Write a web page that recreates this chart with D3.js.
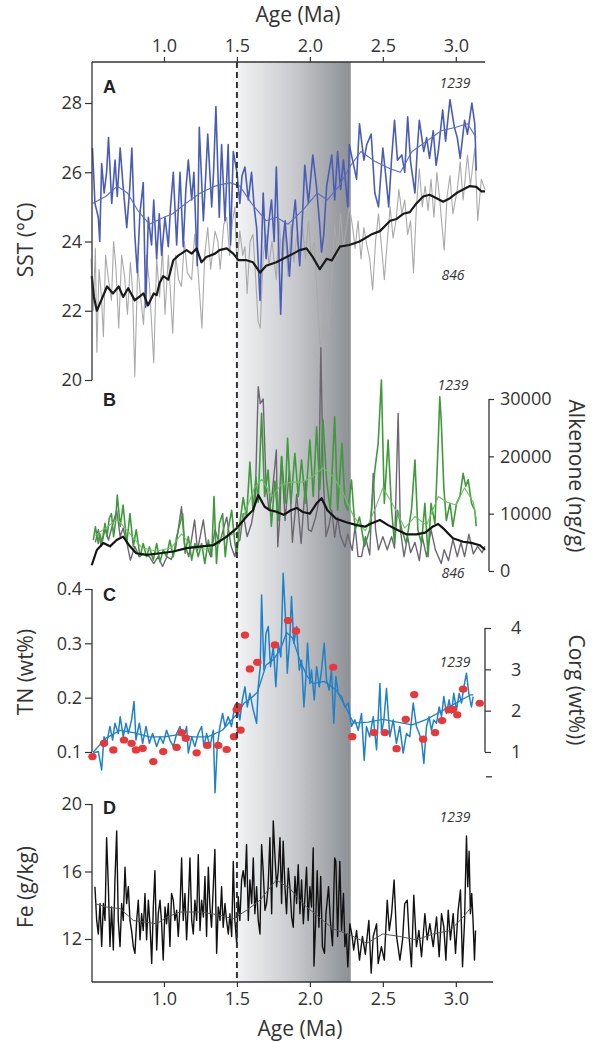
<!DOCTYPE html>
<html><head><meta charset="utf-8">
<script src="https://cdn.jsdelivr.net/npm/d3@7"></script>
<style>
body{margin:0;background:#fff}
svg{display:block}
</style>
</head><body>
<svg id="c" width="592" height="1043"></svg>
<script>
// ---------------- DATA ----------------
const ageTicks = [1.0, 1.5, 2.0, 2.5, 3.0];
const sstTicks = [20, 22, 24, 26, 28];
const alkTicks = [0, 10000, 20000, 30000];
const tnTicks = [0.1, 0.2, 0.3, 0.4];
const corgTicks = [1, 2, 3, 4];
const corgExtraTick = [0.4];
const feTicks = [12, 16, 20];
const bandAges = [1.5, 2.28];
const dashAge = 1.5;

// Panel A: SST (°C)
const sst1239 = [[0.51,26.7],[0.527,25.1],[0.55,24.7],[0.56,24.0],[0.573,26.25],[0.59,25.4],[0.607,26.0],[0.62,27.0],[0.642,25.1],[0.665,26.35],[0.68,25.3],[0.70,26.7],[0.72,25.6],[0.745,24.4],[0.765,25.5],[0.78,26.7],[0.80,24.2],[0.817,23.1],[0.835,24.8],[0.858,25.7],[0.875,22.1],[0.893,24.7],[0.915,23.9],[0.93,25.2],[0.95,23.5],[0.968,24.8],[0.984,23.6],[1.007,24.7],[1.03,23.85],[1.045,25.0],[1.064,26.0],[1.087,23.9],[1.11,26.0],[1.132,23.85],[1.15,25.5],[1.167,26.35],[1.19,25.2],[1.205,26.0],[1.228,23.3],[1.242,27.3],[1.27,24.6],[1.285,25.8],[1.30,27.1],[1.327,25.0],[1.34,26.0],[1.356,27.9],[1.379,24.7],[1.395,26.8],[1.418,24.6],[1.44,26.8],[1.456,23.9],[1.475,26.6],[1.50,26.0],[1.52,25.1],[1.535,25.9],[1.555,26.15],[1.578,25.2],[1.60,26.0],[1.618,25.0],[1.635,24.4],[1.658,22.3],[1.68,25.4],[1.70,23.5],[1.72,24.6],[1.737,25.2],[1.755,24.0],[1.77,26.15],[1.80,21.9],[1.815,24.0],[1.83,24.6],[1.86,23.0],[1.88,24.4],[1.90,25.2],[1.93,23.3],[1.95,24.8],[1.965,26.2],[1.99,25.1],[2.02,26.5],[2.045,25.6],[2.065,24.6],[2.08,23.7],[2.095,24.2],[2.115,25.6],[2.15,26.5],[2.17,25.2],[2.19,26.6],[2.21,25.5],[2.23,26.35],[2.26,25.0],[2.27,26.8],[2.30,26.2],[2.32,25.8],[2.34,27.4],[2.37,26.35],[2.39,26.8],[2.42,27.1],[2.445,25.4],[2.47,25.0],[2.50,26.7],[2.52,25.9],[2.54,25.0],[2.56,26.4],[2.58,27.5],[2.60,26.35],[2.63,26.5],[2.65,26.0],[2.67,27.6],[2.69,26.3],[2.72,25.4],[2.735,26.6],[2.75,27.5],[2.78,26.6],[2.8,27.0],[2.82,26.4],[2.845,27.2],[2.865,26.2],[2.88,26.6],[2.91,27.8],[2.93,26.9],[2.96,28.1],[2.99,27.3],[3.01,27.0],[3.03,26.4],[3.06,27.5],[3.08,27.1],[3.11,28.0],[3.13,27.4],[3.14,26.05]];
const sst1239Smooth = [[0.51,25.1],[0.6,25.3],[0.68,25.6],[0.75,25.4],[0.82,24.9],[0.9,24.5],[1.0,24.7],[1.06,24.8],[1.15,25.1],[1.25,25.4],[1.35,25.6],[1.45,25.7],[1.52,25.6],[1.6,25.1],[1.7,24.6],[1.77,24.7],[1.85,24.5],[1.95,24.9],[2.05,25.4],[2.12,25.2],[2.2,25.6],[2.28,26.2],[2.35,26.6],[2.45,26.3],[2.55,26.1],[2.62,26.0],[2.7,26.6],[2.8,26.9],[2.9,27.2],[3.0,27.3],[3.08,27.4],[3.14,27.0]];
const sst846 = [[0.5,23.5],[0.515,22.0],[0.53,23.8],[0.54,20.8],[0.555,23.2],[0.57,22.5],[0.585,21.25],[0.60,23.6],[0.62,22.9],[0.64,22.3],[0.655,24.0],[0.67,23.3],[0.69,21.5],[0.71,23.6],[0.73,23.0],[0.75,21.9],[0.77,23.4],[0.785,22.6],[0.80,20.1],[0.82,23.3],[0.84,22.4],[0.86,21.6],[0.88,23.6],[0.90,22.8],[0.93,20.5],[0.95,23.5],[0.97,22.4],[0.99,23.8],[1.007,21.9],[1.03,23.6],[1.06,21.35],[1.08,23.6],[1.10,22.9],[1.12,22.7],[1.14,24.0],[1.16,23.1],[1.19,22.9],[1.21,24.2],[1.23,23.4],[1.26,21.5],[1.28,23.65],[1.30,24.4],[1.32,23.2],[1.35,24.3],[1.37,24.0],[1.385,23.2],[1.41,24.5],[1.43,24.7],[1.45,23.6],[1.47,24.6],[1.486,25.0],[1.50,23.3],[1.52,24.3],[1.54,23.6],[1.555,23.85],[1.57,22.5],[1.59,24.0],[1.61,24.2],[1.625,23.2],[1.645,21.7],[1.66,21.5],[1.68,23.6],[1.70,24.2],[1.72,23.3],[1.74,24.0],[1.77,22.9],[1.79,24.6],[1.81,23.2],[1.83,24.3],[1.85,23.0],[1.87,24.5],[1.89,23.4],[1.91,24.2],[1.93,23.3],[1.95,24.4],[1.97,23.5],[1.99,24.6],[2.01,23.6],[2.03,24.0],[2.05,22.4],[2.07,21.0],[2.09,21.3],[2.11,22.6],[2.13,21.4],[2.15,23.0],[2.17,24.5],[2.19,23.6],[2.21,24.8],[2.23,23.8],[2.25,24.4],[2.27,25.0],[2.29,24.5],[2.31,23.8],[2.33,24.6],[2.35,23.5],[2.37,24.4],[2.39,23.9],[2.41,23.5],[2.43,22.6],[2.45,24.0],[2.47,24.8],[2.49,23.9],[2.51,22.9],[2.53,24.0],[2.55,25.0],[2.57,24.1],[2.59,24.6],[2.61,25.5],[2.63,24.8],[2.65,25.2],[2.67,24.2],[2.69,24.6],[2.71,23.1],[2.73,25.0],[2.75,26.1],[2.77,25.0],[2.79,25.6],[2.81,24.9],[2.83,25.8],[2.85,24.7],[2.87,26.0],[2.89,25.2],[2.92,23.75],[2.94,25.3],[2.96,25.9],[2.98,24.8],[3.01,25.5],[3.03,26.3],[3.05,25.2],[3.08,26.5],[3.10,25.6],[3.13,26.7],[3.15,24.6],[3.175,25.8],[3.20,25.5]];
const sst846Smooth = [[0.505,23.0],[0.52,22.4],[0.54,22.0],[0.57,22.3],[0.61,22.7],[0.65,22.5],[0.69,22.7],[0.72,22.4],[0.755,22.65],[0.80,22.3],[0.83,22.4],[0.86,22.5],[0.89,22.15],[0.93,22.5],[0.95,22.45],[0.97,22.8],[0.995,23.0],[1.03,22.9],[1.064,23.46],[1.10,23.6],[1.155,23.75],[1.19,23.65],[1.224,23.8],[1.257,23.4],[1.29,23.55],[1.35,23.65],[1.38,23.75],[1.43,23.8],[1.475,23.65],[1.51,23.46],[1.566,23.46],[1.61,23.4],[1.658,23.1],[1.70,23.3],[1.77,23.4],[1.84,23.55],[1.886,23.65],[1.93,23.75],[1.977,23.8],[2.02,23.55],[2.068,23.2],[2.115,23.5],[2.15,23.45],[2.205,23.85],[2.27,23.9],[2.34,24.0],[2.42,24.2],[2.48,24.3],[2.55,24.6],[2.594,24.65],[2.64,24.8],[2.685,24.85],[2.73,25.1],[2.776,25.3],[2.82,25.35],[2.868,25.25],[2.913,25.15],[2.96,25.25],[3.005,25.4],[3.05,25.5],[3.096,25.6],[3.14,25.58],[3.176,25.45],[3.2,25.45]];

// Panel B: Alkenone (ng/g)
const alk1239 = [[0.516,5400],[0.53,7700],[0.55,4800],[0.56,6500],[0.575,5000],[0.596,8300],[0.61,6000],[0.625,9200],[0.64,10000],[0.655,6000],[0.668,8500],[0.68,13250],[0.70,7800],[0.72,11500],[0.745,4800],[0.767,10000],[0.79,4300],[0.81,7200],[0.836,2500],[0.858,4800],[0.88,2500],[0.90,4200],[0.927,1900],[0.95,4800],[0.973,1600],[0.995,3700],[1.018,2500],[1.04,5400],[1.064,2500],[1.087,6000],[1.11,8300],[1.128,10000],[1.145,3100],[1.167,6000],[1.19,1900],[1.212,4800],[1.235,2500],[1.258,4800],[1.28,1300],[1.304,5400],[1.327,2500],[1.343,13000],[1.36,1300],[1.38,8300],[1.402,10000],[1.42,2500],[1.44,7200],[1.464,10600],[1.486,4800],[1.50,3100],[1.52,8300],[1.543,12800],[1.566,9400],[1.589,19000],[1.61,10600],[1.63,16400],[1.646,12000],[1.669,27500],[1.69,13000],[1.714,17600],[1.736,7800],[1.76,15700],[1.783,8800],[1.806,19940],[1.83,11800],[1.847,23140],[1.87,11800],[1.897,20500],[1.92,13000],[1.943,19360],[1.97,11800],[2.0,22850],[2.023,13000],[2.046,25170],[2.068,14200],[2.09,26340],[2.114,15900],[2.14,10600],[2.17,26900],[2.19,10600],[2.22,22270],[2.24,11800],[2.26,10600],[2.285,15870],[2.31,7200],[2.34,9400],[2.375,4300],[2.41,7200],[2.445,17600],[2.468,22270],[2.49,33300],[2.51,11800],[2.536,22850],[2.56,10600],[2.58,4800],[2.60,10600],[2.63,7200],[2.66,4800],[2.696,10600],[2.72,19360],[2.74,7200],[2.765,4800],[2.788,11800],[2.81,2500],[2.83,11800],[2.857,8300],[2.88,22850],[2.89,30400],[2.90,26300],[2.918,14500],[2.935,8800],[2.96,11800],[2.98,7800],[3.005,11800],[3.028,13000],[3.05,17030],[3.068,14800],[3.085,15900],[3.108,11800],[3.13,10600],[3.14,7800]];
const alk1239Smooth = [[0.516,6000],[0.6,7500],[0.68,9000],[0.75,7000],[0.85,4000],[0.95,3500],[1.05,4000],[1.12,6500],[1.2,4000],[1.3,3800],[1.4,6000],[1.5,6500],[1.56,10500],[1.62,14500],[1.67,16000],[1.74,13000],[1.8,15000],[1.87,15500],[1.95,15500],[2.02,16500],[2.09,18000],[2.16,16500],[2.22,14000],[2.3,9500],[2.38,7000],[2.45,11000],[2.5,14500],[2.56,12000],[2.65,7500],[2.72,9500],[2.8,8000],[2.88,13000],[2.94,12000],[3.0,11500],[3.06,14500],[3.12,12000],[3.14,9000]];
const alk846 = [[0.53,5000],[0.55,7200],[0.57,4300],[0.596,7300],[0.62,5400],[0.645,7800],[0.676,10600],[0.70,6000],[0.72,7500],[0.745,5000],[0.77,1900],[0.80,4300],[0.83,2500],[0.86,3000],[0.90,2500],[0.93,1300],[0.96,2500],[0.99,800],[1.02,2500],[1.05,2000],[1.08,4000],[1.12,11200],[1.14,4800],[1.17,2500],[1.21,8900],[1.23,3600],[1.27,8900],[1.29,4800],[1.32,2500],[1.35,7200],[1.38,4800],[1.43,9400],[1.46,4300],[1.486,2500],[1.50,4800],[1.52,5400],[1.543,10000],[1.57,6000],[1.60,8300],[1.625,12000],[1.646,32150],[1.66,29200],[1.68,30000],[1.70,14900],[1.72,10600],[1.74,13000],[1.77,21100],[1.78,4240],[1.795,10000],[1.806,20000],[1.83,8800],[1.86,17600],[1.88,5000],[1.91,13400],[1.94,4800],[1.97,15700],[1.99,7200],[2.01,6900],[2.04,9400],[2.06,12000],[2.075,39000],[2.09,17600],[2.11,6000],[2.13,7800],[2.15,10600],[2.17,5900],[2.19,9400],[2.21,6100],[2.24,4200],[2.26,6400],[2.29,3600],[2.31,7800],[2.33,2500],[2.354,2500],[2.38,6000],[2.41,2800],[2.434,17030],[2.45,7200],[2.47,3700],[2.50,6000],[2.53,3700],[2.56,6000],[2.58,4000],[2.605,27500],[2.62,7200],[2.645,2500],[2.67,6000],[2.69,3200],[2.72,5000],[2.75,1800],[2.77,6000],[2.80,2500],[2.83,7200],[2.86,3700],[2.90,1300],[2.92,3700],[2.95,1800],[2.98,5500],[3.01,2500],[3.035,5000],[3.06,2500],[3.09,6400],[3.12,3000],[3.15,4300],[3.18,3200],[3.2,4300]];
const alk846Smooth = [[0.505,1000],[0.54,3660],[0.585,4900],[0.63,4300],[0.676,5400],[0.72,6000],[0.767,4300],[0.81,3100],[0.88,2800],[0.973,3100],[1.064,3400],[1.155,4000],[1.246,4240],[1.338,4500],[1.43,6000],[1.498,7440],[1.566,9500],[1.61,10600],[1.646,13250],[1.69,11200],[1.726,10600],[1.77,10350],[1.82,9800],[1.87,10600],[1.91,11000],[1.95,10300],[2.0,10000],[2.046,11800],[2.08,12700],[2.12,10600],[2.18,9100],[2.25,8500],[2.32,8000],[2.377,7730],[2.42,8300],[2.48,8900],[2.536,8000],[2.59,7300],[2.66,6400],[2.73,6400],[2.79,6700],[2.84,7700],[2.879,8200],[2.92,7300],[2.98,5700],[3.05,5100],[3.107,4900],[3.164,4500],[3.2,3700]];

// Panel C: TN (wt%) and Corg (wt%)
const tn1239 = [[0.516,0.098],[0.55,0.101],[0.573,0.067],[0.589,0.128],[0.607,0.116],[0.63,0.147],[0.648,0.122],[0.664,0.153],[0.687,0.134],[0.70,0.165],[0.721,0.128],[0.74,0.153],[0.756,0.134],[0.778,0.159],[0.795,0.193],[0.808,0.122],[0.831,0.153],[0.854,0.116],[0.877,0.147],[0.90,0.116],[0.922,0.134],[0.95,0.110],[0.973,0.128],[0.995,0.116],[1.018,0.140],[1.041,0.122],[1.064,0.110],[1.087,0.134],[1.11,0.147],[1.132,0.122],[1.155,0.147],[1.167,0.098],[1.19,0.128],[1.212,0.110],[1.235,0.134],[1.258,0.147],[1.274,0.110],[1.292,0.134],[1.315,0.110],[1.338,0.140],[1.35,0.025],[1.365,0.110],[1.384,0.147],[1.402,0.171],[1.418,0.147],[1.44,0.165],[1.463,0.147],[1.48,0.177],[1.498,0.19],[1.52,0.159],[1.537,0.196],[1.555,0.22],[1.571,0.183],[1.589,0.208],[1.612,0.177],[1.635,0.153],[1.646,0.22],[1.66,0.257],[1.669,0.389],[1.685,0.251],[1.699,0.318],[1.715,0.331],[1.73,0.257],[1.749,0.294],[1.767,0.22],[1.783,0.30],[1.801,0.275],[1.817,0.429],[1.836,0.331],[1.845,0.245],[1.863,0.312],[1.874,0.386],[1.89,0.30],[1.909,0.331],[1.927,0.251],[1.943,0.269],[1.959,0.183],[1.973,0.239],[1.984,0.30],[2.0,0.226],[2.011,0.251],[2.03,0.196],[2.046,0.257],[2.064,0.22],[2.08,0.251],[2.098,0.30],[2.114,0.233],[2.132,0.214],[2.148,0.251],[2.164,0.153],[2.178,0.239],[2.194,0.208],[2.217,0.202],[2.24,0.183],[2.263,0.19],[2.285,0.147],[2.308,0.159],[2.331,0.140],[2.354,0.171],[2.372,0.085],[2.388,0.147],[2.41,0.128],[2.434,0.165],[2.457,0.104],[2.48,0.226],[2.491,0.134],[2.507,0.159],[2.525,0.217],[2.548,0.128],[2.571,0.159],[2.593,0.116],[2.616,0.147],[2.639,0.098],[2.662,0.134],[2.685,0.128],[2.708,0.19],[2.73,0.147],[2.749,0.134],[2.765,0.122],[2.781,0.079],[2.799,0.147],[2.817,0.165],[2.833,0.140],[2.849,0.159],[2.868,0.153],[2.886,0.183],[2.902,0.165],[2.918,0.202],[2.936,0.171],[2.954,0.196],[2.97,0.171],[2.986,0.208],[3.005,0.177],[3.023,0.208],[3.039,0.190],[3.055,0.220],[3.073,0.245],[3.089,0.208],[3.107,0.183],[3.119,0.202]];
const tn1239Smooth = [[0.516,0.10],[0.6,0.125],[0.7,0.14],[0.8,0.135],[0.9,0.128],[1.0,0.128],[1.1,0.132],[1.2,0.128],[1.3,0.128],[1.4,0.14],[1.5,0.17],[1.55,0.19],[1.6,0.2],[1.64,0.21],[1.7,0.26],[1.75,0.27],[1.8,0.29],[1.84,0.32],[1.88,0.31],[1.93,0.27],[1.98,0.24],[2.02,0.226],[2.1,0.23],[2.18,0.214],[2.25,0.18],[2.3,0.153],[2.4,0.155],[2.5,0.16],[2.6,0.155],[2.7,0.15],[2.8,0.16],[2.9,0.175],[3.0,0.19],[3.1,0.205],[3.12,0.205]];
const corg1239 = [[0.51,0.89],[0.589,1.21],[0.653,1.05],[0.726,1.29],[0.778,1.21],[0.808,1.05],[0.854,1.09],[0.927,0.77],[0.995,1.01],[1.087,1.11],[1.121,1.47],[1.15,1.33],[1.224,0.98],[1.297,1.16],[1.372,1.16],[1.43,1.06],[1.48,1.37],[1.498,2.02],[1.507,2.10],[1.525,1.53],[1.555,3.83],[1.589,3.01],[1.64,3.17],[1.76,3.59],[1.85,4.18],[1.905,3.93],[2.16,3.05],[2.29,1.37],[2.44,1.47],[2.514,1.47],[2.594,1.08],[2.657,1.79],[2.715,2.39],[2.776,1.31],[2.858,1.47],[2.906,1.76],[2.95,2.02],[2.98,2.03],[3.01,1.90],[3.05,2.52],[3.164,2.18]];

// Panel D: Fe (g/kg)
const fe1239 = [[0.527,15.1],[0.539,13.1],[0.55,12.3],[0.562,14.1],[0.573,11.55],[0.585,14.1],[0.596,13.1],[0.607,18.0],[0.619,15.1],[0.63,11.55],[0.641,13.9],[0.653,11.35],[0.664,15.5],[0.676,18.4],[0.687,13.1],[0.699,11.55],[0.71,14.1],[0.721,13.1],[0.733,16.25],[0.744,14.1],[0.756,15.1],[0.767,13.1],[0.778,12.5],[0.79,11.55],[0.801,11.15],[0.813,13.1],[0.824,14.3],[0.836,11.95],[0.847,13.5],[0.858,12.5],[0.87,14.7],[0.881,11.95],[0.893,14.3],[0.904,12.9],[0.916,10.55],[0.927,13.9],[0.938,16.05],[0.95,11.35],[0.961,13.5],[0.973,14.3],[0.984,12.9],[0.995,10.75],[1.007,13.9],[1.018,12.9],[1.03,14.1],[1.041,11.55],[1.052,14.7],[1.064,14.3],[1.075,13.1],[1.087,13.7],[1.098,12.15],[1.11,13.9],[1.121,16.8],[1.132,13.1],[1.144,14.7],[1.155,11.95],[1.167,14.1],[1.178,16.8],[1.19,13.1],[1.201,12.3],[1.212,14.3],[1.224,13.1],[1.235,17.0],[1.247,12.5],[1.258,14.3],[1.27,13.3],[1.281,15.7],[1.292,12.15],[1.304,16.25],[1.315,13.9],[1.326,12.7],[1.338,15.1],[1.349,17.3],[1.361,11.15],[1.372,13.9],[1.384,13.1],[1.395,15.1],[1.406,12.7],[1.418,14.1],[1.429,13.1],[1.441,12.3],[1.452,13.5],[1.464,12.15],[1.475,16.6],[1.486,13.1],[1.498,11.75],[1.509,14.5],[1.52,13.1],[1.532,15.5],[1.543,16.05],[1.555,15.1],[1.566,17.6],[1.578,13.1],[1.589,15.5],[1.601,14.1],[1.612,16.8],[1.623,13.5],[1.635,15.1],[1.646,13.1],[1.658,12.3],[1.669,17.6],[1.68,16.05],[1.692,13.7],[1.703,14.1],[1.714,15.1],[1.726,18.0],[1.738,13.5],[1.749,19.0],[1.76,17.0],[1.772,15.1],[1.783,16.05],[1.795,18.0],[1.806,14.1],[1.817,17.8],[1.829,15.1],[1.84,13.5],[1.852,16.2],[1.863,15.1],[1.875,13.3],[1.886,12.7],[1.898,15.7],[1.909,14.1],[1.92,16.4],[1.932,13.5],[1.943,15.5],[1.955,12.9],[1.966,14.5],[1.977,16.25],[1.988,13.1],[2.0,15.1],[2.011,13.9],[2.023,17.4],[2.028,10.4],[2.04,13.1],[2.05,16.05],[2.062,12.7],[2.074,15.7],[2.086,11.55],[2.1,11.15],[2.11,13.5],[2.128,15.1],[2.14,13.1],[2.155,11.6],[2.17,16.8],[2.178,16.6],[2.19,12.15],[2.205,16.6],[2.217,12.5],[2.23,14.7],[2.24,11.55],[2.25,12.3],[2.26,10.35],[2.274,12.9],[2.29,12.15],[2.3,11.35],[2.32,12.5],[2.34,10.75],[2.36,12.15],[2.38,11.1],[2.404,13.1],[2.42,9.98],[2.434,12.15],[2.457,12.9],[2.468,10.55],[2.49,11.55],[2.51,10.75],[2.53,14.3],[2.544,12.5],[2.56,13.5],[2.577,15.5],[2.594,12.15],[2.617,10.75],[2.635,11.95],[2.65,14.1],[2.667,14.3],[2.68,12.15],[2.696,10.35],[2.712,14.6],[2.73,11.55],[2.747,12.5],[2.765,10.95],[2.788,13.5],[2.804,11.95],[2.822,12.9],[2.845,11.55],[2.868,13.3],[2.886,10.95],[2.902,13.5],[2.918,12.7],[2.932,10.75],[2.948,13.7],[2.963,11.95],[2.982,13.5],[2.998,11.15],[3.016,13.7],[3.032,14.9],[3.046,10.35],[3.06,13.1],[3.073,18.1],[3.082,15.1],[3.091,17.2],[3.1,13.5],[3.109,14.7],[3.118,13.1],[3.128,10.75],[3.135,12.5]];
const fe1239Smooth = [[0.527,14.1],[0.6,13.9],[0.7,13.8],[0.79,13.1],[0.87,13.0],[0.95,12.9],[1.02,13.3],[1.11,13.6],[1.25,13.6],[1.36,13.45],[1.475,13.2],[1.566,13.7],[1.658,14.3],[1.77,15.5],[1.863,15.0],[1.92,14.4],[1.977,13.9],[2.09,13.1],[2.16,12.6],[2.274,12.25],[2.39,11.75],[2.5,12.3],[2.616,12.15],[2.73,11.95],[2.845,12.3],[2.96,12.5],[3.05,13.3],[3.107,13.9]];

// ---------------- DRAWING ----------------
const FONT = "'Open Sans', 'DejaVu Sans', sans-serif";
const INK = "#333";
const svg = d3.select("#c");

const x = d3.scaleLinear().domain([0.5, 3.2]).range([91, 485]);
const yA = d3.scaleLinear().domain([20, 28]).range([380, 103]);
const yB = d3.scaleLinear().domain([0, 30000]).range([571, 399]);
const yC = d3.scaleLinear().domain([0.1, 0.4]).range([752, 589]);
const yC2 = d3.scaleLinear().domain([1, 4]).range([752, 628]);
const yD = d3.scaleLinear().domain([12, 20]).range([939, 804]);

const TOP = 62, BOTTOM = 982, LEFT = 92;

// gradient band
const defs = svg.append("defs");
const grad = defs.append("linearGradient").attr("id", "band")
  .attr("gradientUnits", "userSpaceOnUse")
  .attr("x1", x(bandAges[0])).attr("x2", x(bandAges[1])).attr("y1", 0).attr("y2", 0);
grad.append("stop").attr("offset", 0).attr("stop-color", "#f2f3f5");
grad.append("stop").attr("offset", 0.5).attr("stop-color", "#c8cacd");
grad.append("stop").attr("offset", 1).attr("stop-color", "#8c8f94");
svg.append("rect")
  .attr("x", x(bandAges[0])).attr("y", TOP)
  .attr("width", x(bandAges[1]) - x(bandAges[0])).attr("height", BOTTOM - TOP)
  .attr("fill", "url(#band)");

function lineGen(ys) {
  return d3.line().x(d => x(d[0])).y(d => ys(d[1]));
}
function drawLine(data, ys, color, w) {
  svg.append("path").datum(data)
    .attr("d", lineGen(ys))
    .attr("fill", "none").attr("stroke", color)
    .attr("stroke-width", w).attr("stroke-linejoin", "round");
}

// Panel A
drawLine(sst846, yA, "#a9a9a9", 1.1);
drawLine(sst1239, yA, "#4a5db6", 1.6);
drawLine(sst1239Smooth, yA, "#5a6cc0", 1.1);
drawLine(sst846Smooth, yA, "#1a1a1a", 2.2);

// Panel B
drawLine(alk846, yB, "#6b6670", 1.4);
drawLine(alk1239, yB, "#3f9a3c", 1.6);
drawLine(alk1239Smooth, yB, "#6fbf66", 1.1);
drawLine(alk846Smooth, yB, "#141414", 2.2);

// Panel C
drawLine(tn1239, yC, "#1f82c9", 1.5);
drawLine(tn1239Smooth, yC, "#1f82c9", 1.3);
svg.append("g").selectAll("ellipse").data(corg1239).join("ellipse")
  .attr("cx", d => x(d[0])).attr("cy", d => yC2(d[1]))
  .attr("rx", 4.2).attr("ry", 3.6).attr("fill", "#e8383a");

// Panel D
drawLine(fe1239, yD, "#111", 1.4);
drawLine(fe1239Smooth, yD, "#555", 1.0);

// dashed line
svg.append("line")
  .attr("x1", x(dashAge)).attr("x2", x(dashAge))
  .attr("y1", TOP).attr("y2", BOTTOM)
  .attr("stroke", "#333").attr("stroke-width", 2)
  .attr("stroke-dasharray", "6,4");

// axes helpers
function styleAxis(g, size) {
  g.attr("font-family", FONT).attr("font-size", size || 18).attr("color", INK);
  g.select(".domain").remove();
  g.selectAll(".tick line").attr("stroke-width", 1.2);
}
function vline(xp, y1, y2) {
  svg.append("line").attr("x1", xp).attr("x2", xp).attr("y1", y1).attr("y2", y2)
    .attr("stroke", INK).attr("stroke-width", 1.3);
}
function hline(yp, x1, x2) {
  svg.append("line").attr("x1", x1).attr("x2", x2).attr("y1", yp).attr("y2", yp)
    .attr("stroke", INK).attr("stroke-width", 1.3);
}

// top axis
svg.append("g").attr("transform", `translate(0,${TOP})`)
  .call(d3.axisTop(x).tickValues(ageTicks).tickFormat(d3.format(".1f")).tickSize(5).tickPadding(5))
  .call(g => styleAxis(g));
hline(TOP, LEFT, 485);
// bottom axis
svg.append("g").attr("transform", `translate(0,${BOTTOM})`)
  .call(d3.axisBottom(x).tickValues(ageTicks).tickFormat(d3.format(".1f")).tickSize(5).tickPadding(5))
  .call(g => styleAxis(g));
hline(BOTTOM, LEFT, 493);

// A left axis
svg.append("g").attr("transform", `translate(${LEFT},0)`)
  .call(d3.axisLeft(yA).tickValues(sstTicks).tickSize(7).tickPadding(3))
  .call(g => styleAxis(g));
vline(LEFT, TOP, yA(20));

// B right axis
svg.append("g").attr("transform", `translate(489,0)`)
  .call(d3.axisRight(yB).tickValues(alkTicks).tickFormat(d3.format("d")).tickSize(5).tickPadding(6))
  .call(g => styleAxis(g));
vline(489, yB(30000), yB(0));

// C left axis
svg.append("g").attr("transform", `translate(${LEFT},0)`)
  .call(d3.axisLeft(yC).tickValues(tnTicks).tickFormat(d3.format(".1f")).tickSize(7).tickPadding(3))
  .call(g => styleAxis(g));
vline(LEFT, yC(0.4), yC(0.1));

// C right axis
svg.append("g").attr("transform", `translate(485,0)`)
  .call(d3.axisRight(yC2).tickValues(corgTicks).tickFormat(d3.format("d")).tickSize(6).tickPadding(20))
  .call(g => styleAxis(g));
vline(485, yC2(4), yC2(1));
svg.append("g").selectAll("line").data(corgExtraTick).join("line")
  .attr("x1", 486).attr("x2", 492).attr("y1", d => yC2(d)).attr("y2", d => yC2(d))
  .attr("stroke", INK).attr("stroke-width", 1.3);

// D left axis
svg.append("g").attr("transform", `translate(${LEFT},0)`)
  .call(d3.axisLeft(yD).tickValues(feTicks).tickSize(7).tickPadding(3))
  .call(g => styleAxis(g));
vline(LEFT, yD(20), BOTTOM);

// titles
function text(t, xp, yp, opts = {}) {
  const el = svg.append("text").text(t)
    .attr("x", xp).attr("y", yp)
    .attr("font-family", opts.family || FONT)
    .attr("font-size", opts.size || 21)
    .attr("fill", opts.fill || INK)
    .attr("text-anchor", opts.anchor || "middle");
  if (opts.weight) el.attr("font-weight", opts.weight);
  if (opts.style) el.attr("font-style", opts.style);
  if (opts.rotate) el.attr("transform", `rotate(${opts.rotate},${xp},${yp})`);
  return el;
}
text("Age (Ma)", 298, 22);
text("Age (Ma)", 300, 1036);
text("SST (°C)", 33, 240, {rotate: -90});
text("TN (wt%)", 33, 672, {rotate: -90});
text("Fe (g/kg)", 33, 887, {rotate: -90});
text("Alkenone (ng/g)", 569, 476, {rotate: 90});
text("Corg (wt%))", 569, 690, {rotate: 90});

// panel letters
const LF = "'Liberation Sans', Arial, sans-serif";
text("A", 103, 93, {anchor: "start", weight: "bold", size: 18, family: LF, fill: "#222"});
text("B", 103, 406, {anchor: "start", weight: "bold", size: 18, family: LF, fill: "#222"});
text("C", 103, 601, {anchor: "start", weight: "bold", size: 18, family: LF, fill: "#222"});
text("D", 103, 814, {anchor: "start", weight: "bold", size: 18, family: LF, fill: "#222"});

// site labels
const sopt = {size: 14, style: "italic"};
text("1239", 455, 88, sopt);
text("846", 453, 280, sopt);
text("1239", 453, 390, sopt);
text("846", 453, 578, sopt);
text("1239", 455, 667, sopt);
text("1239", 455, 822, sopt);
</script>
</body></html>
